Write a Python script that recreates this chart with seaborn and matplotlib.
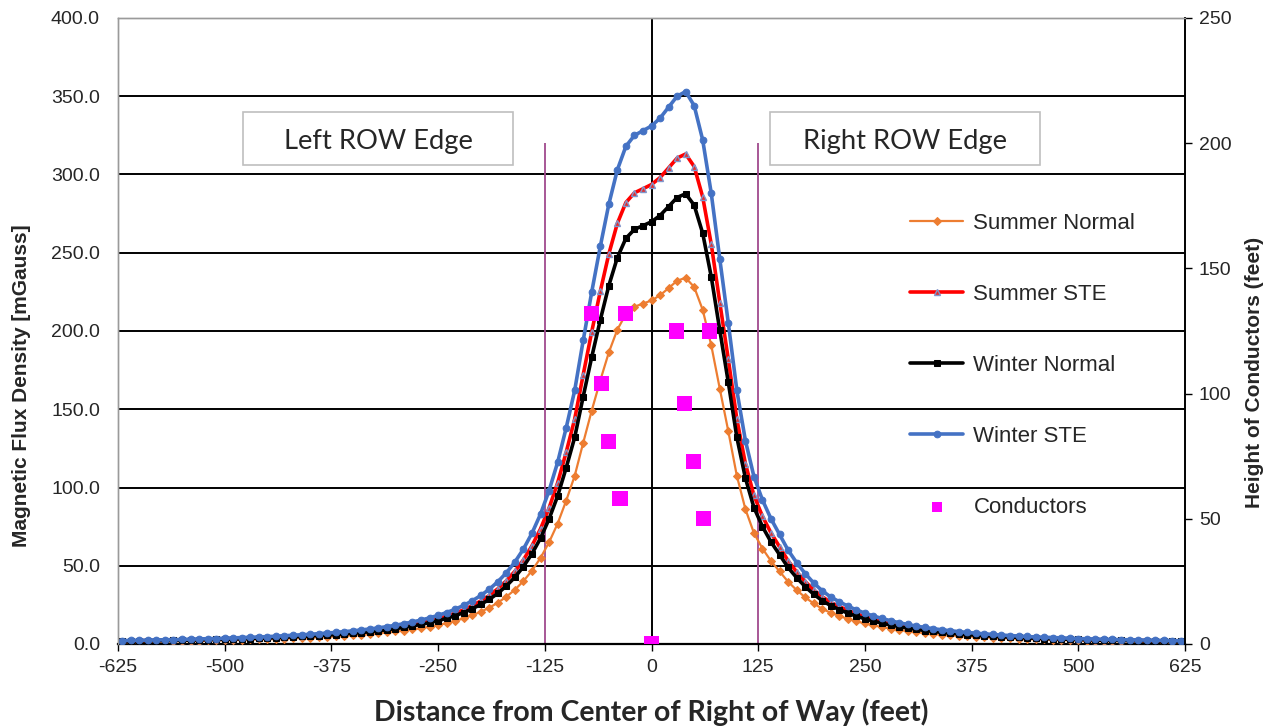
import matplotlib
matplotlib.use("Agg")
import matplotlib.pyplot as plt
from matplotlib.patches import Rectangle
import seaborn as sns
import pandas as pd

# Lateral distance from the centre of the right of way (feet)
distance = list(range(-620, 630, 10))

# Magnetic flux density profiles (mGauss)
winter_ste = [
    2.2, 2.3, 2.4, 2.5, 2.6, 2.7, 2.8, 2.9, 3.1, 3.2, 3.4, 3.5, 3.7, 3.9, 4.1, 4.3,
    4.5, 4.7, 5.0, 5.3, 5.6, 5.9, 6.2, 6.6, 7.0, 7.4, 7.9, 8.4, 9.0, 9.6, 10.3, 11.1,
    12.0, 13.0, 14.1, 15.3, 16.7, 18.3, 20.1, 22.2, 24.7, 27.6, 31.0, 35.0, 39.8, 45.5,
    52.4, 60.7, 70.8, 83.0, 98.0, 116, 138, 162, 194, 225, 254, 281, 303, 318, 325, 328,
    331,
    336, 343, 350, 353, 344, 322, 288, 246, 205, 162, 130, 107, 92, 80, 70, 60,
    52, 45, 39, 34, 30, 27, 24.2, 21.8, 19.7, 17.9, 16.3, 14.9, 13.6, 12.5, 11.5, 10.6,
    9.8, 9.1, 8.5, 7.9, 7.4, 6.9, 6.5, 6.1, 5.7, 5.4, 5.1, 4.8, 4.5, 4.3, 4.1, 3.9,
    3.7, 3.5, 3.3, 3.2, 3.0, 2.9, 2.8, 2.7, 2.6, 2.5, 2.4, 2.3, 2.2, 2.1,
]
summer_ste = [
    2.0, 2.0, 2.1, 2.2, 2.3, 2.4, 2.5, 2.6, 2.7, 2.8, 3.0, 3.1, 3.3, 3.5, 3.6, 3.8,
    4.0, 4.2, 4.4, 4.7, 5.0, 5.2, 5.5, 5.9, 6.2, 6.6, 7.0, 7.5, 8.0, 8.5, 9.1, 9.8,
    10.6, 11.5, 12.5, 13.6, 14.8, 16.2, 17.8, 19.7, 21.9, 24.5, 27.5, 31.0, 35.3, 40.4,
    46.5, 53.8, 62.8, 73.6, 86.9, 102.9, 122.4, 143.7, 172.1, 199.6, 225.3, 249.2, 268.8, 282.1, 288.3, 290.9,
    293.6,
    298.0, 304.2, 310.5, 313.1, 305.1, 285.6, 255.5, 218.2, 181.8, 143.7, 115.3, 94.9, 81.6, 71.0, 62.1, 53.2,
    46.1, 39.9, 34.6, 30.2, 26.6, 23.9, 21.5, 19.3, 17.5, 15.9, 14.5, 13.2, 12.1, 11.1, 10.2, 9.4,
    8.7, 8.1, 7.5, 7.0, 6.6, 6.1, 5.8, 5.4, 5.1, 4.8, 4.5, 4.3, 4.0, 3.8, 3.6, 3.5,
    3.3, 3.1, 2.9, 2.8, 2.7, 2.6, 2.5, 2.4, 2.3, 2.2, 2.1, 2.0, 2.0, 1.9,
]
winter_normal = [
    1.8, 1.9, 2.0, 2.0, 2.1, 2.2, 2.3, 2.4, 2.5, 2.6, 2.8, 2.9, 3.0, 3.2, 3.3, 3.5,
    3.7, 3.8, 4.1, 4.3, 4.6, 4.8, 5.1, 5.4, 5.7, 6.0, 6.4, 6.8, 7.3, 7.8, 8.4, 9.0,
    9.8, 10.6, 11.5, 12.5, 13.6, 14.9, 16.4, 18.1, 20.1, 22.5, 25.3, 28.5, 32.4, 37.1,
    42.7, 49.5, 57.7, 67.6, 79.9, 94.5, 112.5, 132.0, 158.1, 183.4, 207.0, 229.0, 246.9, 259.2, 264.9, 267.3,
    269.8,
    273.8, 279.5, 285.3, 287.7, 280.4, 262.4, 234.7, 200.5, 167.1, 132.0, 106.0, 87.2, 75.0, 65.2, 57.1, 48.9,
    42.4, 36.7, 31.8, 27.7, 24.5, 22.0, 19.7, 17.8, 16.1, 14.6, 13.3, 12.1, 11.1, 10.2, 9.4, 8.6,
    8.0, 7.4, 6.9, 6.4, 6.0, 5.6, 5.3, 5.0, 4.6, 4.4, 4.2, 3.9, 3.7, 3.5, 3.3, 3.2,
    3.0, 2.9, 2.7, 2.6, 2.4, 2.4, 2.3, 2.2, 2.1, 2.0, 2.0, 1.9, 1.8, 1.7,
]
summer_normal = [
    1.5, 1.5, 1.6, 1.7, 1.7, 1.8, 1.9, 1.9, 2.1, 2.1, 2.3, 2.3, 2.5, 2.6, 2.7, 2.9,
    3.0, 3.1, 3.3, 3.5, 3.7, 3.9, 4.1, 4.4, 4.6, 4.9, 5.2, 5.6, 6.0, 6.4, 6.8, 7.4,
    8.0, 8.6, 9.3, 10.1, 11.1, 12.1, 13.3, 14.7, 16.4, 18.3, 20.6, 23.2, 26.4, 30.2,
    34.7, 40.2, 46.9, 55.0, 65.0, 76.9, 91.5, 107.4, 128.6, 149.2, 168.4, 186.3, 200.9, 210.8, 215.5, 217.5,
    219.5,
    222.8, 227.4, 232.1, 234.0, 228.1, 213.5, 190.9, 163.1, 135.9, 107.4, 86.2, 70.9, 61.0, 53.0, 46.4, 39.8,
    34.5, 29.8, 25.9, 22.5, 19.9, 17.9, 16.0, 14.5, 13.1, 11.9, 10.8, 9.9, 9.0, 8.3, 7.6, 7.0,
    6.5, 6.0, 5.6, 5.2, 4.9, 4.6, 4.3, 4.0, 3.8, 3.6, 3.4, 3.2, 3.0, 2.9, 2.7, 2.6,
    2.5, 2.3, 2.2, 2.1, 2.0, 1.9, 1.9, 1.8, 1.7, 1.7, 1.6, 1.5, 1.5, 1.4,
]

# Conductor positions: lateral offset (feet) and height above ground (feet)
conductor_x = [-70, -30, -59, -50, -37, 29, 68, 39, 49, 61, 0]
conductor_h = [132, 132, 104, 81, 58, 125, 125, 96, 73, 50, 0]

# Right-of-way edges (feet)
row_edges = [-125, 125]

x_ticks = [-625, -500, -375, -250, -125, 0, 125, 250, 375, 500, 625]
left_ticks = [0, 50, 100, 150, 200, 250, 300, 350, 400]
right_ticks = [0, 50, 100, 150, 200, 250]

sns.set_style("white")
plt.rcParams["font.family"] = ["Liberation Sans Narrow", "Liberation Sans", "DejaVu Sans"]

W, H = 1266, 726
fig = plt.figure(figsize=(W / 100, H / 100), dpi=100)
ax = fig.add_axes([118 / W, 82 / H, 1067 / W, 626 / H])
ax2 = ax.twinx()

df = pd.DataFrame({
    "distance": distance,
    "Summer Normal": summer_normal,
    "Summer STE": summer_ste,
    "Winter Normal": winter_normal,
    "Winter STE": winter_ste,
})

styles = {
    "Summer Normal": dict(color="#ED7D31", lw=1.6, marker="D", markersize=4.5,
                          markerfacecolor="#ED7D31", markeredgecolor="#ED7D31"),
    "Summer STE": dict(color="#FF0000", lw=2.6, marker="^", markersize=5,
                       markerfacecolor="#E03030", markeredgecolor="#7F96CC", markeredgewidth=1.0),
    "Winter Normal": dict(color="black", lw=2.6, marker="s", markersize=5,
                          markerfacecolor="black", markeredgecolor="black"),
    "Winter STE": dict(color="#4472C4", lw=2.6, marker="o", markersize=4.8,
                       markerfacecolor="#4472C4", markeredgecolor="#4472C4"),
}

for name, st in styles.items():
    sns.lineplot(data=df, x="distance", y=name, ax=ax, label=name, zorder=4, **st)

sns.scatterplot(x=conductor_x, y=conductor_h, ax=ax2, marker="s", s=120,
                color="#FF00FF", edgecolor="none", label="Conductors", zorder=5)

# Axes limits and ticks
ax.set_xlim(-625, 625)
ax.set_ylim(0, 400)
ax2.set_ylim(0, 250)
ax.set_xticks(x_ticks)
ax.set_xticklabels([str(v) for v in x_ticks])
ax.set_yticks(left_ticks)
ax.set_yticklabels([f"{v:.1f}" for v in left_ticks])
ax2.set_yticks(right_ticks)
ax2.set_yticklabels([str(v) for v in right_ticks])

ax.tick_params(axis="x", direction="out", length=5, width=1, color="black",
               labelsize=14, pad=6, bottom=True)
ax.tick_params(axis="y", length=0, labelsize=14, pad=13)
ax2.tick_params(axis="y", direction="out", length=5, width=1, color="black",
                labelsize=14, pad=5, right=True)

# Grid, centre line and right-of-way edges
ax.grid(False)
ax2.grid(False)
for v in left_ticks[1:-1]:
    ax.axhline(v, color="black", lw=1.4, zorder=1)
ax.axvline(0, color="black", lw=1.4, zorder=1)
ax.vlines(row_edges, 0, 320, color="#A04A8E", lw=1.3, zorder=2)

for spine in ("left", "top"):
    ax.spines[spine].set_color("#9a9a9a")
    ax2.spines[spine].set_color("#9a9a9a")
    ax.spines[spine].set_linewidth(1.0)
    ax2.spines[spine].set_linewidth(1.0)
ax.spines["bottom"].set_color("black")
ax.spines["bottom"].set_linewidth(1.6)
ax2.spines["bottom"].set_visible(False)
ax2.spines["right"].set_color("black")
ax2.spines["right"].set_linewidth(1.4)
ax.spines["right"].set_visible(False)

# Axis titles
ax.set_ylabel("")
ax2.set_ylabel("")
ax.set_xlabel("Distance from Center of Right of Way (feet)", fontsize=20.5,
              fontweight="bold", family=["Lato", "DejaVu Sans"], labelpad=16)
fig.text(22 / W, 1 - 386 / H, "Magnetic Flux Density [mGauss]", rotation=90,
         ha="center", va="center", fontsize=15, fontweight="bold")
fig.text(1255 / W, 1 - 372 / H, "Height of Conductors (feet)", rotation=90,
         ha="center", va="center", fontsize=15, fontweight="bold")

# Right-of-way edge labels in boxes
for x0, txt in ((243, "Left ROW Edge"), (770, "Right ROW Edge")):
    fig.patches.append(Rectangle((x0 / W, 1 - 165 / H), 270 / W, 53 / H,
                                 transform=fig.transFigure, facecolor="white",
                                 edgecolor="#BFBFBF", lw=1.2, zorder=6))
    fig.text((x0 + 135) / W, 1 - 141 / H, txt, ha="center", va="center",
             fontsize=19.7, family=["Lato", "DejaVu Sans"], zorder=7)

# Combined legend from both axes
h1, l1 = ax.get_legend_handles_labels()
h2, l2 = ax2.get_legend_handles_labels()
ax.get_legend().remove()
ax2.get_legend().remove()
leg = ax2.legend(h1 + h2, l1 + l2, loc="upper left",
                 bbox_to_anchor=(899 / W, 1 - 202 / H), bbox_transform=fig.transFigure,
                 frameon=False, fontsize=16, handlelength=2.4, handletextpad=0.45,
                 labelspacing=2.25, borderpad=0, numpoints=1)
leg.legend_handles[-1].set_sizes([55])

fig.savefig("out.png", dpi=100)
